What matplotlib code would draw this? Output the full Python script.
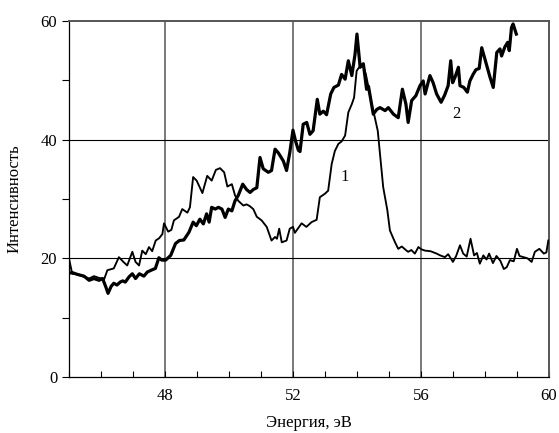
import matplotlib
matplotlib.use("Agg")
import matplotlib.pyplot as plt
from matplotlib.ticker import MultipleLocator, FixedLocator

# curve 1 (thin line)
energy_1 = [
    45.0, 45.1, 45.26, 45.47, 45.63, 45.78, 45.94, 46.1, 46.2, 46.4,
    46.56, 46.7, 46.82, 46.98, 47.08, 47.19, 47.29, 47.4, 47.5, 47.6,
    47.71, 47.82, 47.92, 47.97, 48.1, 48.2, 48.28, 48.44, 48.54, 48.7,
    48.78, 48.88, 48.99, 49.17, 49.32, 49.46, 49.59, 49.72, 49.85, 49.95,
    50.09, 50.19, 50.29, 50.45, 50.55, 50.65, 50.76, 50.87, 51.02, 51.18,
    51.33, 51.44, 51.5, 51.57, 51.65, 51.8, 51.9, 52.0, 52.06, 52.27,
    52.42, 52.58, 52.74, 52.84, 53.0, 53.1, 53.21, 53.31, 53.42, 53.52,
    53.63, 53.73, 53.84, 53.91, 53.99, 54.07, 54.18, 54.28, 54.35, 54.46,
    54.56, 54.65, 54.72, 54.82, 54.95, 55.03, 55.19, 55.29, 55.4, 55.55,
    55.6, 55.7, 55.81, 55.92, 56.02, 56.13, 56.3, 56.49, 56.6, 56.75,
    56.85, 57.0, 57.1, 57.22, 57.32, 57.43, 57.55, 57.66, 57.75, 57.84,
    57.95, 58.05, 58.13, 58.25, 58.36, 58.48, 58.59, 58.68, 58.78, 58.9,
    59.0, 59.08, 59.2, 59.33, 59.46, 59.56, 59.7, 59.84, 59.92, 59.98,
]
intensity_1 = [
    20.0, 17.4, 17.3, 16.9, 16.6, 17.0, 16.7, 16.5, 18.0, 18.3,
    20.2, 19.4, 18.8, 21.1, 19.4, 18.8, 21.3, 20.7, 21.9, 21.2,
    23.0, 23.4, 24.1, 25.9, 24.5, 24.8, 26.4, 27.0, 28.3, 27.7,
    28.6, 33.7, 33.1, 31.0, 33.9, 33.1, 34.9, 35.2, 34.5, 32.1,
    32.5, 30.6, 29.7, 28.9, 29.1, 28.8, 28.3, 27.0, 26.4, 25.3,
    23.0, 23.6, 23.3, 25.0, 22.7, 23.0, 25.0, 25.3, 24.3, 25.9,
    25.3, 26.1, 26.5, 30.3, 30.9, 31.4, 35.9, 38.1, 39.3, 39.7,
    40.7, 44.6, 46.0, 47.1, 51.6, 52.2, 52.8, 51.0, 49.1, 46.0,
    43.7, 41.5, 37.6, 32.0, 28.1, 24.7, 22.7, 21.6, 22.0, 21.3,
    21.1, 21.4, 20.8, 21.9, 21.5, 21.3, 21.2, 20.8, 20.5, 20.2,
    20.7, 19.4, 20.4, 22.2, 20.8, 20.3, 23.3, 20.5, 20.9, 19.1,
    20.5, 19.8, 20.8, 19.2, 20.4, 19.6, 18.2, 18.5, 19.7, 19.5,
    21.6, 20.4, 20.2, 20.0, 19.4, 21.1, 21.6, 20.8, 21.0, 23.0,
]

# curve 2 (thick line)
energy_2 = [
    45.0, 45.1, 45.26, 45.47, 45.63, 45.78, 45.94, 46.05, 46.15, 46.22,
    46.32, 46.4, 46.5, 46.6, 46.68, 46.76, 46.88, 46.98, 47.08, 47.2,
    47.34, 47.45, 47.57, 47.7, 47.81, 47.9, 48.02, 48.18, 48.33, 48.45,
    48.59, 48.75, 48.88, 48.98, 49.09, 49.2, 49.3, 49.38, 49.46, 49.57,
    49.67, 49.78, 49.88, 49.98, 50.09, 50.19, 50.29, 50.43, 50.55, 50.66,
    50.76, 50.87, 50.97, 51.07, 51.23, 51.33, 51.44, 51.54, 51.7, 51.8,
    51.9, 52.0, 52.08, 52.17, 52.22, 52.32, 52.43, 52.53, 52.63, 52.76,
    52.84, 52.95, 53.05, 53.18, 53.28, 53.42, 53.52, 53.63, 53.73, 53.84,
    53.94, 54.0, 54.1, 54.2, 54.3, 54.36, 54.51, 54.62, 54.72, 54.88,
    54.98, 55.14, 55.29, 55.42, 55.53, 55.6, 55.71, 55.84, 55.97, 56.07,
    56.13, 56.28, 56.38, 56.49, 56.63, 56.74, 56.85, 56.93, 56.99, 57.07,
    57.17, 57.22, 57.34, 57.45, 57.53, 57.63, 57.72, 57.82, 57.9, 58.03,
    58.16, 58.26, 58.37, 58.47, 58.52, 58.62, 58.71, 58.76, 58.83, 58.88,
    58.98,
]
intensity_2 = [
    17.5, 17.6, 17.3, 17.0, 16.3, 16.6, 16.3, 16.6, 15.2, 14.1,
    15.3, 15.8, 15.5, 16.0, 16.2, 16.0, 16.9, 17.4, 16.6, 17.4,
    17.0, 17.7, 18.0, 18.3, 20.1, 19.7, 19.7, 20.5, 22.5, 23.0,
    23.1, 24.4, 26.1, 25.5, 26.6, 25.8, 27.5, 26.1, 28.6, 28.3,
    28.6, 28.3, 26.9, 28.3, 28.0, 29.7, 30.6, 32.5, 31.6, 31.1,
    31.6, 31.9, 37.0, 35.1, 34.5, 34.8, 38.4, 37.8, 36.4, 34.8,
    37.8, 41.6, 39.8, 38.2, 38.0, 42.6, 42.9, 40.9, 41.5, 46.8,
    44.3, 44.8, 44.2, 47.7, 48.8, 49.2, 51.0, 50.2, 53.3, 50.8,
    54.4, 57.8, 52.2, 52.8, 48.5, 49.0, 44.3, 45.1, 45.4, 44.9,
    45.4, 44.3, 43.7, 48.5, 46.0, 42.9, 46.6, 47.4, 49.1, 49.9,
    47.7, 50.8, 49.6, 47.7, 46.3, 47.5, 49.1, 53.3, 49.6, 50.6,
    52.2, 49.1, 48.8, 48.0, 49.9, 51.0, 51.8, 52.0, 55.5, 53.0,
    50.5, 48.8, 54.7, 55.3, 54.1, 55.6, 56.4, 55.0, 58.9, 59.5,
    57.8,
]

x_ticks = [48, 52, 56, 60]
y_ticks = [0, 20, 40, 60]
curve_labels = [("1", 53.63, 33.7), ("2", 57.1, 44.3)]

plt.rcParams['font.family'] = ['Liberation Serif', 'DejaVu Serif']

fig = plt.figure(figsize=(5.59, 4.33), dpi=100)
ax = fig.add_axes([0.1234, 0.1293, 0.8586, 0.8222])

# grid: grey verticals, black horizontals
for xv in x_ticks[:-1]:
    ax.axvline(xv, color='#555555', lw=1.1, zorder=1)
for yv in y_ticks[1:-1]:
    ax.axhline(yv, color='black', lw=0.8, zorder=1)

ax.plot(energy_1, intensity_1, color='black', lw=1.35, zorder=3)
ax.plot(energy_2, intensity_2, color='black', lw=2.3, zorder=3)

for txt, xv, yv in curve_labels:
    ax.text(xv, yv, txt, fontsize=12, ha='center', va='center')

ax.set_xlim(45, 60)
ax.set_ylim(0, 60)
ax.xaxis.set_major_locator(FixedLocator(x_ticks))
ax.xaxis.set_minor_locator(MultipleLocator(1))
ax.yaxis.set_major_locator(FixedLocator(y_ticks))
ax.yaxis.set_minor_locator(MultipleLocator(10))

ax.tick_params(axis='x', which='both', direction='in', length=4, width=0.8, labelsize=12, pad=8)
ax.tick_params(axis='y', which='both', direction='out', length=5, width=0.8, labelsize=12)

for side in ['left', 'bottom']:
    ax.spines[side].set_color('black')
    ax.spines[side].set_linewidth(0.9)
for side in ['top', 'right']:
    ax.spines[side].set_color('#555555')
    ax.spines[side].set_linewidth(1.4)

ax.set_xlabel('Энергия, эВ', fontsize=12, labelpad=8)
ax.set_ylabel('Интенсивность', fontsize=12, labelpad=13)

plt.savefig('out.png', dpi=100)
